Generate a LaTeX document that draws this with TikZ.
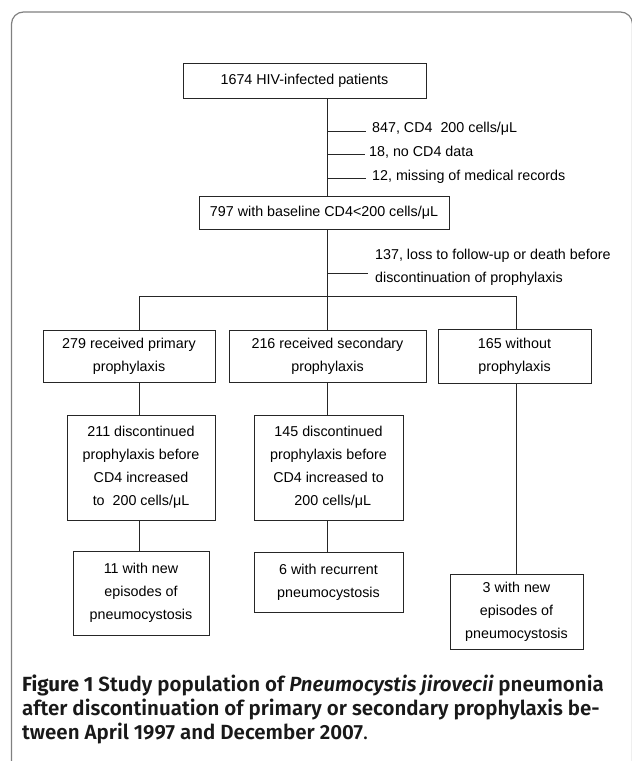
\documentclass[tikz,border=0pt]{standalone}
\usepackage{fontspec}
\setmainfont{Liberation Sans}
\newfontfamily\capfont{Fira Sans SemiBold}
\newfontfamily\capbold{Fira Sans Bold}
\newfontfamily\capital{Fira Sans SemiBold Italic}
\begin{document}
\begin{tikzpicture}[x=1pt,y=-1pt,
  box/.style={draw=black!85, line width=0.9pt, inner sep=0pt, align=center,
    font=\fontsize{14.3pt}{23pt}\selectfont},
  conn/.style={draw=black!85, line width=0.9pt},
  lbl/.style={anchor=west, inner sep=0pt, font=\fontsize{14.3pt}{23pt}\selectfont},
  frame/.style={draw=black!50, line width=1.2pt, rounded corners=12pt}]
\useasboundingbox (0,0) rectangle (632,761);
\draw[frame] (11.5,770) -- (11.5,12) -- (632.5,12) -- (632.5,770);

\coordinate (t) at (327,0);
\coordinate (ta) at (139,0);
\coordinate (tc) at (516.5,0);

\node[box, minimum width=243pt, minimum height=35pt] (b1) at (304.5,80.8) {1674 HIV-infected patients};
\node[box, minimum width=250pt, minimum height=33pt] (b2) at (324,213) {797 with baseline CD4<200 cells/μL};

\node[box, minimum width=172pt, minimum height=52pt] (b3a) at (129,356) {279 received primary\\prophylaxis};
\node[box, minimum width=197pt, minimum height=52pt] (b3b) at (327.5,356) {216 received secondary\\prophylaxis};
\node[box, minimum width=153pt, minimum height=54pt] (b3c) at (514.5,356) {165 without\\prophylaxis};

\node[box, minimum width=148pt, minimum height=105pt] (b4a) at (141,467.5) {211 discontinued\\prophylaxis before\\CD4 increased\\to~~200 cells/μL};
\node[box, minimum width=149pt, minimum height=105pt] (b4b) at (328.5,467.5) {145 discontinued\\prophylaxis before\\CD4 increased to\\\hspace*{0.6em}200 cells/μL};

\node[box, minimum width=136pt, minimum height=84pt] (b5a) at (141,593) {11 with new\\episodes of\\pneumocystosis};
\node[box, minimum width=149pt, minimum height=60pt] (b5b) at (328.5,582) {6 with recurrent\\pneumocystosis};
\node[box, minimum width=133pt, minimum height=75pt] (b5c) at (516.5,611.5) {3 with new\\episodes of\\pneumocystosis};

% trunk
\draw[conn] (b1.south -| t) -- (b2.north -| t);
\coordinate (bar) at (327,296);
\draw[conn] (b2.south -| t) -- (bar);
\draw[conn] (bar -| ta) -- (bar -| tc);
\draw[conn] (bar -| ta) -- (b3a.north -| ta);
\draw[conn] (bar) -- (b3b.north -| t);
\draw[conn] (bar -| tc) -- (b3c.north -| tc);
\draw[conn] (b3a.south -| ta) -- (b4a.north -| ta);
\draw[conn] (b3b.south -| t) -- (b4b.north -| t);
\draw[conn] (b3c.south -| tc) -- (b5c.north -| tc);
\draw[conn] (b4a.south -| ta) -- (b5a.north -| ta);
\draw[conn] (b4b.south -| t) -- (b5b.north -| t);

% exclusions
\coordinate (e1) at (327,131);
\coordinate (e2) at (327,154);
\coordinate (e3) at (327,178.5);
\coordinate (e4) at (327,273);
\node[lbl] (l1) at (372,129) {847, CD4~~200 cells/μL};
\node[lbl] (l2) at (369,152) {18, no CD4 data};
\node[lbl] (l3) at (372,176.5) {12, missing of medical records};
\node[lbl, align=left] (l4) at (375,267.5) {137, loss to follow-up or death before\\discontinuation of prophylaxis};
\draw[conn] (e1) -- ([xshift=-6pt]e1 -| l1.west);
\draw[conn] (e2) -- ([xshift=-4pt]e2 -| l2.west);
\draw[conn] (e3) -- ([xshift=-6pt]e3 -| l3.west);
\draw[conn] (e4) -- ([xshift=-7pt]e4 -| l4.west);

% caption
\node[anchor=north west, inner sep=0pt, align=left, text=black!90,
  font=\capfont\fontsize{20.5pt}{24pt}\selectfont] (cap) at (22,675)
  {{\capbold Figure 1} Study population of {\capital Pneumocystis jirovecii} pneumonia\\
   after discontinuation of primary or secondary prophylaxis be-\\
   tween April 1997 and December 2007{\fontspec{Fira Sans}.}};
\end{tikzpicture}
\end{document}
